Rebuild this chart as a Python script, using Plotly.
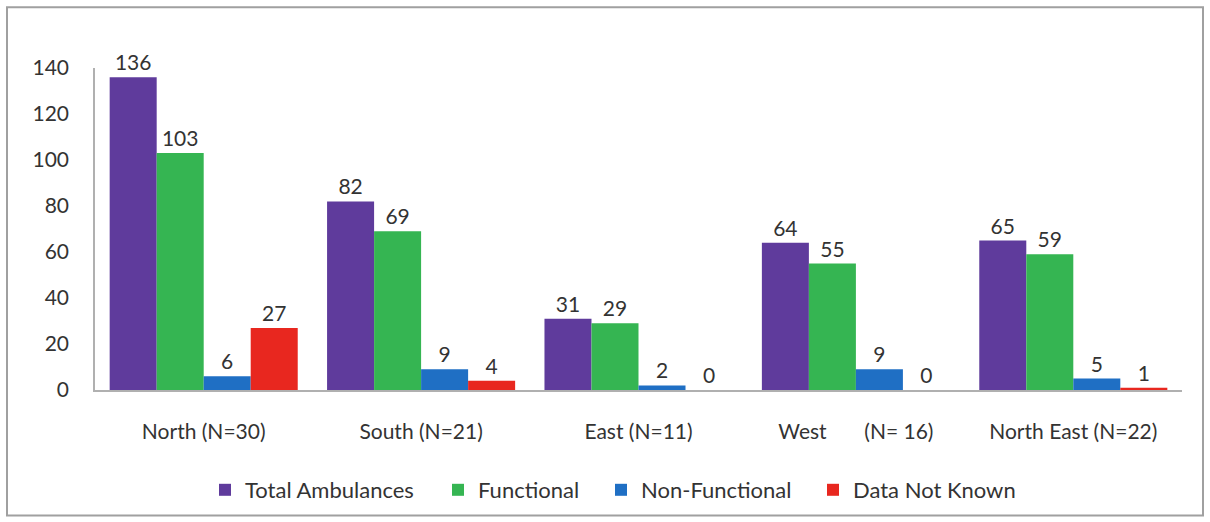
import plotly.graph_objects as go

regions = ["North (N=30)", "South (N=21)", "East (N=11)",
           "West\u00a0\u00a0\u00a0\u00a0\u00a0\u00a0\u00a0(N= 16)", "North East (N=22)"]
total = [136, 82, 31, 64, 65]
functional = [103, 69, 29, 55, 59]
non_functional = [6, 9, 2, 9, 5]
not_known = [27, 4, 0, 0, 1]

series = [
    ("Total Ambulances", total, "#5f3b9c"),
    ("Functional", functional, "#35b552"),
    ("Non-Functional", non_functional, "#1f6fc4"),
    ("Data Not Known", not_known, "#e8271f"),
]

font_family = "Lato, 'Open Sans', sans-serif"
text_color = "#333333"

W, H = 1210, 522
L, R, T, B = 95, 28, 68, 131
plot_w = W - L - R
plot_h = H - T - B

# legend marker left edges (pixels)
legend_left = [220, 453, 616, 828]
legend_names = ["legend", "legend2", "legend3", "legend4"]

fig = go.Figure()
for (name, values, color), lg in zip(series, legend_names):
    fig.add_trace(go.Bar(
        x = regions,
        y = values,
        name = name,
        legend = lg,
        marker = dict(color = color, line = dict(width = 0)),
        text = values,
        textposition = "outside",
        cliponaxis = False,
        textfont = dict(size = 21, color = text_color, family = font_family),
    ))

legends = {}
for lg, px in zip(legend_names, legend_left):
    legends[lg] = dict(
        orientation = "h",
        x = (px - 15 - L) / plot_w, xanchor = "left",
        y = (T + plot_h - 490) / plot_h, yanchor = "middle",
        font = dict(size = 22, color = text_color, family = font_family),
        bgcolor = "rgba(0,0,0,0)",
    )

fig.update_layout(
    width = W,
    height = H,
    barmode = "group",
    bargap = 0.135,
    bargroupgap = 0,
    plot_bgcolor = "white",
    paper_bgcolor = "white",
    margin = dict(l = L, r = R, t = T, b = B),
    font = dict(family = font_family, size = 21, color = text_color),
    showlegend = True,
    xaxis = dict(
        showline = True, linecolor = "#b0b0b0", linewidth = 1.5,
        ticks = "", showgrid = False,
        tickfont = dict(size = 21, color = text_color),
        ticklabelstandoff = 22,
    ),
    yaxis = dict(
        range = [0, 140], dtick = 20,
        showline = True, linecolor = "#b0b0b0", linewidth = 1.5,
        ticks = "", showgrid = False, zeroline = False,
        tickfont = dict(size = 21, color = text_color),
        ticklabelstandoff = 20,
    ),
    **legends,
)

# outer frame around the whole chart (pixels 7..1203 x 7..517)
fig.add_shape(
    type = "rect", xref = "paper", yref = "paper",
    x0 = (7 - L) / plot_w, x1 = (1203 - L) / plot_w,
    y0 = (T + plot_h - 517) / plot_h, y1 = (T + plot_h - 7) / plot_h,
    line = dict(color = "#a0a0a0", width = 2),
    layer = "below",
)

fig.write_html(
    "out.html",
    config = {"displayModeBar": False},
    post_script = "document.body.style.margin = '0';",
)
